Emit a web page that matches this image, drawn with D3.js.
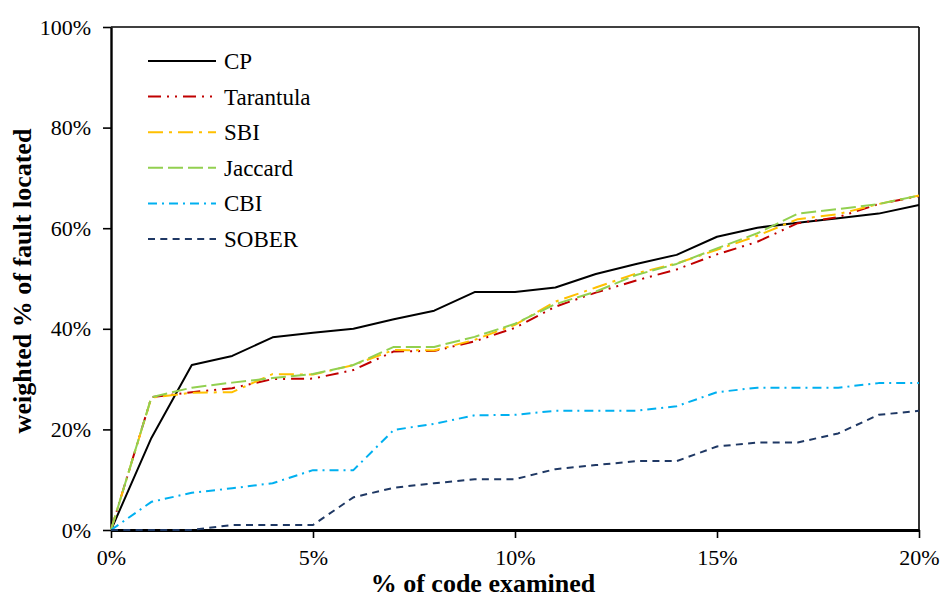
<!DOCTYPE html>
<html>
<head>
<meta charset="utf-8">
<script src="https://cdn.jsdelivr.net/npm/d3@7"></script>
<style>
  html, body { margin: 0; padding: 0; background: #fff; }
  svg { display: block; font-family: "Liberation Serif", "Times New Roman", serif; }
</style>
</head>
<body>
<svg id="chart" width="942" height="597"></svg>
<script>
// % of code examined (x), one point per percent
const codeExamined = [0, 1, 2, 3, 4, 5, 6, 7, 8, 9, 10, 11, 12, 13, 14, 15, 16, 17, 18, 19, 20];

// weighted % of fault located, per technique
const cpValues        = [0, 18.3, 32.8, 34.6, 38.3, 39.2, 40.0, 41.9, 43.6, 47.3, 47.3, 48.2, 50.9, 52.9, 54.7, 58.3, 60.1, 61.1, 62.0, 62.9, 64.6];
const tarantulaValues = [0, 26.4, 27.4, 28.2, 30.0, 30.1, 31.8, 35.5, 35.6, 37.5, 40.2, 44.4, 47.2, 49.6, 51.8, 54.8, 57.3, 61.0, 62.2, 64.8, 66.4];
const sbiValues       = [0, 26.3, 27.3, 27.4, 31.0, 30.9, 32.8, 35.8, 35.7, 37.8, 40.8, 45.4, 48.2, 51.0, 53.0, 55.7, 58.5, 61.8, 62.8, 64.8, 66.5];
const jaccardValues   = [0, 26.4, 28.3, 29.3, 30.2, 31.0, 32.8, 36.4, 36.4, 38.4, 41.0, 44.9, 47.4, 50.7, 52.9, 56.0, 59.0, 62.9, 63.8, 64.8, 66.5];
const cbiValues       = [0, 5.6, 7.4, 8.3, 9.3, 11.9, 11.9, 19.9, 21.1, 22.8, 22.9, 23.7, 23.7, 23.7, 24.6, 27.4, 28.3, 28.3, 28.3, 29.2, 29.2];
const soberValues     = [0, 0, 0, 1.0, 1.0, 1.0, 6.5, 8.4, 9.3, 10.1, 10.1, 12.1, 12.9, 13.7, 13.7, 16.6, 17.4, 17.4, 19.2, 22.9, 23.7];

const seriesNames = ["CP", "Tarantula", "SBI", "Jaccard", "CBI", "SOBER"];
const xTickValues = [0, 5, 10, 15, 20];
const yTickValues = [0, 20, 40, 60, 80, 100];

const seriesStyle = {
  "CP":        { color: "#000000", dash: null,            width: 2 },
  "Tarantula": { color: "#c00000", dash: "13,6,2,6,2,6",  width: 2 },
  "SBI":       { color: "#ffc000", dash: "15,6,3,6",      width: 2 },
  "Jaccard":   { color: "#92d050", dash: "15,5",          width: 2 },
  "CBI":       { color: "#00b0f0", dash: "9,5,2,5",       width: 2 },
  "SOBER":     { color: "#1f3864", dash: "7,5.3",         width: 2 }
};

const seriesValues = [cpValues, tarantulaValues, sbiValues, jaccardValues, cbiValues, soberValues];
const series = seriesNames.map((name, i) => ({
  name,
  points: codeExamined.map((x, j) => ({ x, y: seriesValues[i][j] }))
}));

const svg = d3.select("#chart");
const margin = { left: 111, right: 23, top: 27, bottom: 67 };
const W = 942, H = 597;
const serif = "'Liberation Serif', 'Times New Roman', serif";

const x = d3.scaleLinear().domain([0, 20]).range([margin.left, W - margin.right]);
const y = d3.scaleLinear().domain([0, 100]).range([H - margin.bottom, margin.top]);

// plot frame: thin top and right edges
svg.append("line").attr("x1", x(0)).attr("x2", x(20)).attr("y1", y(100)).attr("y2", y(100))
  .attr("stroke", "#000").attr("stroke-width", 1.6);
svg.append("line").attr("x1", x(20)).attr("x2", x(20)).attr("y1", y(100)).attr("y2", y(0))
  .attr("stroke", "#000").attr("stroke-width", 1.6);

// y axis
const yAxis = svg.append("g").attr("transform", `translate(${x(0)},0)`)
  .call(d3.axisLeft(y).tickValues(yTickValues).tickFormat(d => d + "%").tickSize(8).tickSizeOuter(0).tickPadding(12));
yAxis.select(".domain").attr("stroke-width", 2.4);
yAxis.selectAll(".tick line").attr("stroke-width", 1.6);
yAxis.selectAll("text").attr("font-size", 22).attr("fill", "#000").attr("font-family", serif);

// x axis
const xAxis = svg.append("g").attr("transform", `translate(0,${y(0)})`)
  .call(d3.axisBottom(x).tickValues(xTickValues).tickFormat(d => d + "%").tickSize(8).tickSizeOuter(0).tickPadding(11));
xAxis.select(".domain").attr("stroke-width", 3);
xAxis.selectAll(".tick line").attr("stroke-width", 1.6);
xAxis.selectAll("text").attr("font-size", 22).attr("fill", "#000").attr("font-family", serif);

// axis titles
svg.append("text")
  .attr("x", (x(0) + x(20)) / 2 - 32).attr("y", 592)
  .attr("text-anchor", "middle").attr("font-weight", "bold").attr("font-size", 26)
  .text("% of code examined");
svg.append("text")
  .attr("transform", `translate(31,281) rotate(-90)`)
  .attr("text-anchor", "middle").attr("font-weight", "bold").attr("font-size", 26)
  .text("weighted % of fault located");

// series lines
const line = d3.line()
  .x(d => x(d.x)).y(d => y(d.y));

svg.append("g").selectAll("path")
  .data(series)
  .join("path")
  .attr("d", d => line(d.points))
  .attr("fill", "none")
  .attr("stroke", d => seriesStyle[d.name].color)
  .attr("stroke-width", d => seriesStyle[d.name].width)
  .attr("stroke-linejoin", "round")
  .attr("stroke-dasharray", d => seriesStyle[d.name].dash);

// legend
const legend = svg.append("g").attr("transform", "translate(148,61)");
const rows = legend.selectAll("g").data(seriesNames).join("g")
  .attr("transform", (d, i) => `translate(0,${i * 35.6})`);
rows.append("line")
  .attr("x1", 0).attr("x2", 68).attr("y1", 0).attr("y2", 0)
  .attr("stroke", d => seriesStyle[d].color)
  .attr("stroke-width", 2)
  .attr("stroke-dasharray", d => seriesStyle[d].dash);
rows.append("text")
  .attr("x", 76).attr("y", 8)
  .attr("font-size", 23)
  .text(d => d);
</script>
</body>
</html>
